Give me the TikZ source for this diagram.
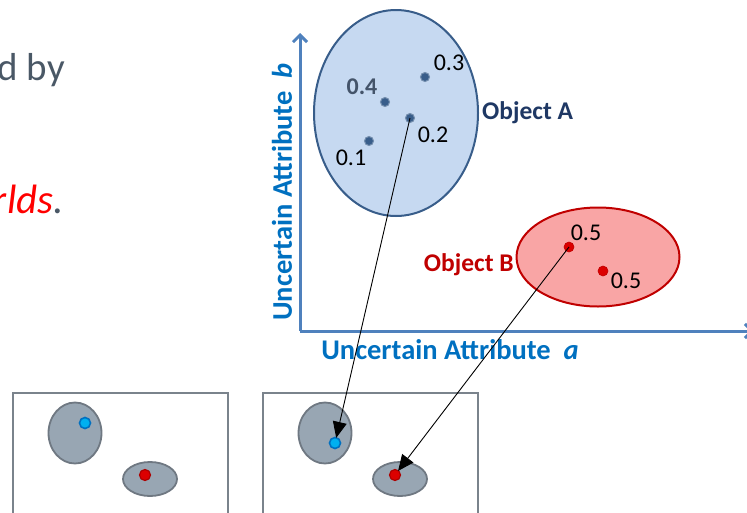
\documentclass[tikz,border=0pt]{standalone}
\usepackage{fontspec}
\setmainfont{Carlito}
\usetikzlibrary{shapes.geometric, arrows.meta, positioning}
\definecolor{axisblue}{RGB}{79,129,189}
\definecolor{labelblue}{RGB}{0,112,192}
\definecolor{objAfill}{RGB}{198,217,241}
\definecolor{objAline}{RGB}{56,93,138}
\definecolor{objAtext}{RGB}{31,56,100}
\definecolor{objBfill}{RGB}{249,165,165}
\definecolor{objBline}{RGB}{192,0,0}
\definecolor{dotred}{RGB}{220,0,0}
\definecolor{slategrey}{RGB}{68,84,106}
\definecolor{textgrey}{RGB}{74,88,102}
\definecolor{worldline}{RGB}{122,131,140}
\definecolor{worldfill}{RGB}{152,166,179}
\definecolor{worldedge}{RGB}{111,120,130}
\definecolor{dotcyan}{RGB}{0,176,240}

\tikzset{
  fsize/.style={font=\fontsize{#1}{#1}\selectfont},
  prob/.style={fsize=24, inner sep=0},
  axislabel/.style={fsize=28.5, text=labelblue, inner sep=0},
  objdot/.style={circle, inner sep=0, minimum size=9pt, fill=objAline, draw=objAline!70!white, line width=1pt},
  bdot/.style={circle, inner sep=0, minimum size=10pt, fill=dotred, draw=objBline, line width=0.6pt},
  worldbox/.style={draw=worldline, line width=2pt},
  worldobj/.style={ellipse, draw=worldedge, fill=worldfill, line width=1.8pt, inner sep=0},
  cyandot/.style={circle, inner sep=0, minimum size=11pt, fill=dotcyan, draw=labelblue, line width=1.6pt},
  reddot/.style={circle, inner sep=0, minimum size=11pt, fill=dotred, draw=objBline!90!black, line width=1.2pt},
  mapsto/.style={-{Triangle[length=16pt,width=14pt]}, line width=0.9pt, shorten >=-1pt}
}

\begin{document}
\begin{tikzpicture}[x=1pt, y=-1pt]
  \useasboundingbox (0,0) rectangle (747,512);

  % slide text, cut at the left edge
  \node[fsize=39, text=textgrey, anchor=base east, inner sep=0] (by) at (65,80) {d by};
  \node[fsize=41, anchor=base east, inner sep=0] (worlds) at (64,213) {\textcolor{red}{\itshape rlds}\textcolor{textgrey}{\itshape .}};

  % axes
  \coordinate (origin) at (300,331);
  \coordinate (ytop) at (300,33);
  \coordinate (xend) at (754,331);
  \draw[axisblue, line width=3pt, -{Straight Barb[length=7pt,width=14pt]}] (origin) -- (ytop);
  \draw[axisblue, line width=3pt, -{Straight Barb[length=7pt,width=14pt]}] (origin) -- (xend);
  \node[axislabel, rotate=90] (ylab) at (282,192) {\bfseries Uncertain Attribute~~\itshape b};
  \node[axislabel] (xlab) at (450,350) {\bfseries Uncertain Attribute~~\itshape a};

  % object A
  \node[ellipse, draw=objAline, fill=objAfill, line width=2pt, minimum width=164pt, minimum height=206pt] (objA) at (396,113) {};
  \node[objdot] (a3) at (425,77) {};
  \node[objdot] (a4) at (385,102) {};
  \node[objdot] (a2) at (410,118) {};
  \node[objdot] (a1) at (369,141) {};
  \node[prob] at (449,63) {0.3};
  \node[prob, text=slategrey] at (362,87) {\bfseries 0.4};
  \node[prob] at (433,135) {0.2};
  \node[prob] at (351,158) {0.1};
  \node[fsize=25.5, text=objAtext, anchor=west, inner sep=0, right=3pt of objA] (labA) {\bfseries Object A};

  % object B
  \node[ellipse, draw=objBline, fill=objBfill, line width=2pt, minimum width=163pt, minimum height=99pt] (objB) at (598,257) {};
  \node[bdot] (b1) at (569,247) {};
  \node[bdot] (b2) at (603,271) {};
  \node[prob] at (586,233) {0.5};
  \node[prob] at (626,281) {0.5};
  \node[fsize=25.5, text=objBline, anchor=east, inner sep=0] (labB) at (514,265) {\bfseries Object B};

  % possible worlds
  \draw[worldbox] (13,393) rectangle (228,530);
  \node[worldobj, minimum width=53pt, minimum height=61pt] (w1A) at (75,433) {};
  \node[worldobj, minimum width=54pt, minimum height=34pt] (w1B) at (150,479) {};
  \node[cyandot] (w1a) at (85,423) {};
  \node[reddot] (w1b) at (145,475) {};

  \draw[worldbox] (263,393) rectangle (478,530);
  \node[worldobj, minimum width=53pt, minimum height=61pt] (w2A) at (325,433) {};
  \node[worldobj, minimum width=54pt, minimum height=34pt] (w2B) at (400,479) {};
  \node[cyandot] (w2a) at (335,443) {};
  \node[reddot] (w2b) at (395,475) {};

  % instance mapping
  \draw[mapsto] (a2.center) -- (w2a);
  \draw[mapsto] (b1.center) -- (w2b);
\end{tikzpicture}
\end{document}
